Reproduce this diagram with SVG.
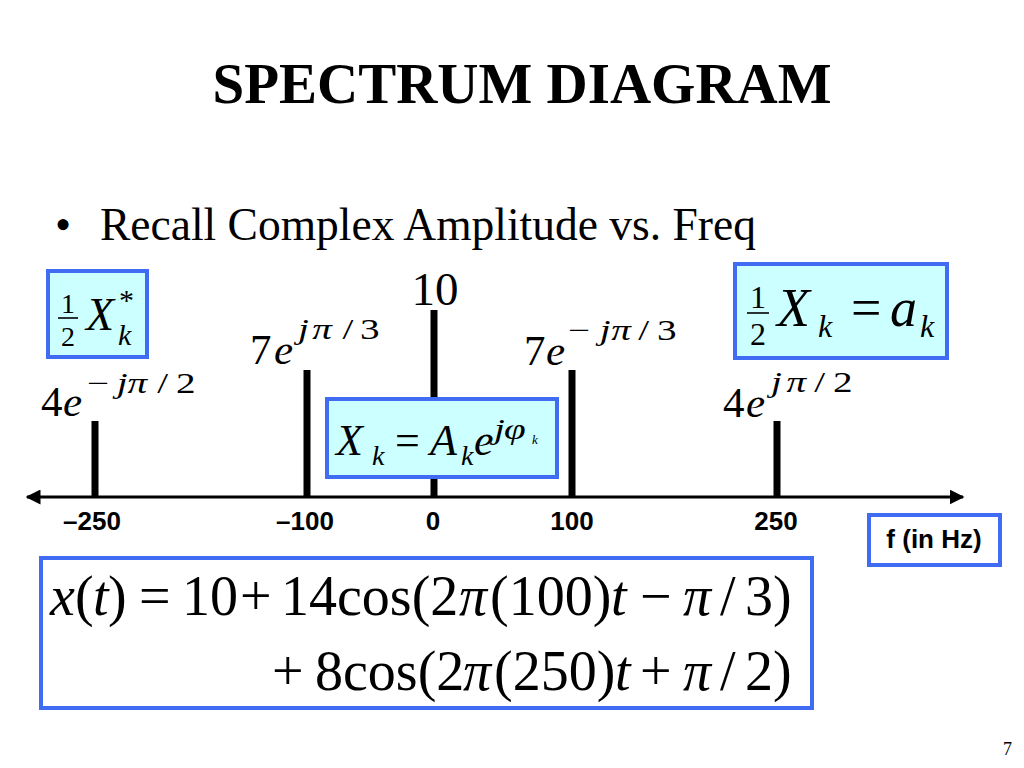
<svg xmlns="http://www.w3.org/2000/svg" width="1024" height="768" viewBox="0 0 1024 768">
<style>
  .serif { font-family: "Liberation Serif", "Times New Roman", serif; fill: #000; }
  .it { font-style: italic; }
  .sans { font-family: "Liberation Sans", Arial, sans-serif; font-weight: bold; fill: #000; }
  .hl { fill: #ccffff; stroke: #3f6cf2; stroke-width: 4; }
  .plain { fill: #ffffff; stroke: #3f6cf2; stroke-width: 4; }
  .stem { stroke: #000; stroke-width: 7; }
  .axis { stroke: #000; stroke-width: 3; fill: none; }
  .bar { stroke: #000; stroke-width: 1.6; }
  .main { font-size: 43px; }
  .sup { font-size: 29px; }
</style>
<defs>
  <marker id="arr" viewBox="0 0 10 10" refX="9" refY="5" markerWidth="5" markerHeight="5" orient="auto-start-reverse" markerUnits="strokeWidth">
    <path d="M0,0 L10,5 L0,10 Z" fill="#000"/>
  </marker>
</defs>
<rect width="1024" height="768" fill="#ffffff"/>

<g id="title">
  <text class="serif" x="522" y="103" font-size="57" font-weight="bold" text-anchor="middle">SPECTRUM DIAGRAM</text>
</g>
<g id="bullet">
  <text class="serif" x="55" y="240" font-size="46">•</text>
  <text class="serif" x="100" y="240" font-size="45.5">Recall Complex Amplitude vs. Freq</text>
</g>

<g id="connectors">
  <line class="axis" x1="27" y1="497" x2="963" y2="497" marker-start="url(#arr)" marker-end="url(#arr)"/>
</g>

<g id="line-m250">
  <line class="stem" x1="95" y1="421" x2="95" y2="497"/>
  <text class="serif main" y="416"><tspan x="41">4</tspan><tspan x="63" class="it">e</tspan></text>
  <text class="serif sup" transform="translate(87,393) scale(1.35,1)"><tspan x="0">−</tspan><tspan x="22" class="it">j</tspan><tspan x="30" class="it">π</tspan><tspan x="52">/</tspan><tspan x="66">2</tspan></text>
  <text class="sans" x="92" y="530" font-size="26" text-anchor="middle">–250</text>
</g>

<g id="line-m100">
  <line class="stem" x1="307" y1="370" x2="307" y2="497"/>
  <text class="serif main" y="364"><tspan x="250">7</tspan><tspan x="274" class="it">e</tspan></text>
  <text class="serif sup" transform="translate(298,339) scale(1.35,1)"><tspan x="0" class="it">j</tspan><tspan x="10.5" class="it">π</tspan><tspan x="33">/</tspan><tspan x="46">3</tspan></text>
  <text class="sans" x="305" y="530" font-size="26" text-anchor="middle">–100</text>
</g>

<g id="line-0">
  <line class="stem" x1="434" y1="310" x2="434" y2="497"/>
  <text class="serif" x="435" y="305" font-size="47" text-anchor="middle">10</text>
  <text class="sans" x="433" y="530" font-size="26" text-anchor="middle">0</text>
</g>

<g id="line-100">
  <line class="stem" x1="572" y1="370" x2="572" y2="497"/>
  <text class="serif main" y="365"><tspan x="524">7</tspan><tspan x="546" class="it">e</tspan></text>
  <text class="serif sup" transform="translate(568,340) scale(1.35,1)"><tspan x="0">−</tspan><tspan x="23.5" class="it">j</tspan><tspan x="32" class="it">π</tspan><tspan x="52">/</tspan><tspan x="66">3</tspan></text>
  <text class="sans" x="572" y="530" font-size="26" text-anchor="middle">100</text>
</g>

<g id="line-250">
  <line class="stem" x1="777" y1="421" x2="777" y2="497"/>
  <text class="serif main" y="417"><tspan x="723">4</tspan><tspan x="746" class="it">e</tspan></text>
  <text class="serif sup" transform="translate(771,392) scale(1.35,1)"><tspan x="0" class="it">j</tspan><tspan x="11.5" class="it">π</tspan><tspan x="32">/</tspan><tspan x="46">2</tspan></text>
  <text class="sans" x="776" y="530" font-size="26" text-anchor="middle">250</text>
</g>

<g id="box-conj">
  <rect class="hl" x="48" y="271" width="99" height="86"/>
  <text class="serif" x="68" y="313" font-size="28" text-anchor="middle">1</text>
  <line class="bar" x1="58" y1="318" x2="78" y2="318"/>
  <text class="serif" x="68" y="346" font-size="28" text-anchor="middle">2</text>
  <text class="serif it" x="86" y="330" font-size="46">X</text>
  <text class="serif it" x="118" y="345" font-size="30">k</text>
  <text class="serif" x="119" y="310" font-size="30">*</text>
</g>

<g id="box-ak">
  <rect class="hl" x="735" y="264" width="212" height="94"/>
  <text class="serif" x="758" y="308" font-size="32" text-anchor="middle">1</text>
  <line class="bar" x1="747" y1="313" x2="769" y2="313"/>
  <text class="serif" x="758" y="345" font-size="32" text-anchor="middle">2</text>
  <text class="serif it" x="777" y="326" font-size="54">X</text>
  <text class="serif it" x="818" y="337" font-size="32">k</text>
  <text class="serif" x="851" y="326" font-size="54">=</text>
  <text class="serif it" x="890" y="326" font-size="54">a</text>
  <text class="serif it" x="920" y="337" font-size="32">k</text>
</g>

<g id="box-polar">
  <rect class="hl" x="327" y="399" width="230" height="78"/>
  <text class="serif it" x="336" y="455" font-size="44">X</text>
  <text class="serif it" x="372" y="465" font-size="28">k</text>
  <text class="serif" x="395" y="455" font-size="44">=</text>
  <text class="serif it" x="430" y="455" font-size="44">A</text>
  <text class="serif it" x="461" y="465" font-size="28">k</text>
  <text class="serif it" x="474" y="455" font-size="44">e</text>
  <text class="serif it" font-size="29" transform="translate(494,439) scale(1.35,1)"><tspan x="0">j</tspan><tspan x="7.5">φ</tspan></text>
  <text class="serif it" x="532" y="444" font-size="13">k</text>
</g>

<g id="box-unit">
  <rect class="plain" x="869" y="515" width="131" height="50"/>
  <text class="sans" x="934" y="548" font-size="26" text-anchor="middle">f (in Hz)</text>
</g>

<g id="box-equation">
  <rect class="plain" x="41" y="558" width="771" height="150"/>
  <text class="serif" y="615" font-size="56">
    <tspan x="50" class="it">x</tspan><tspan x="75">(</tspan><tspan x="93" class="it">t</tspan><tspan x="108">)</tspan>
    <tspan x="139">=</tspan><tspan x="182">10</tspan><tspan x="240">+</tspan><tspan x="281">14cos(2</tspan><tspan x="459" class="it">π</tspan><tspan x="490">(100)</tspan><tspan x="611" class="it">t</tspan>
    <tspan x="640">−</tspan><tspan x="683" class="it">π</tspan><tspan x="720">/</tspan><tspan x="745">3)</tspan>
  </text>
  <text class="serif" y="690" font-size="56">
    <tspan x="272">+</tspan><tspan x="315">8cos(2</tspan><tspan x="463" class="it">π</tspan><tspan x="494">(250)</tspan><tspan x="615" class="it">t</tspan>
    <tspan x="640">+</tspan><tspan x="683" class="it">π</tspan><tspan x="720">/</tspan><tspan x="745">2)</tspan>
  </text>
</g>

<g id="page-number">
  <text class="serif" x="1003" y="755" font-size="18">7</text>
</g>
</svg>
